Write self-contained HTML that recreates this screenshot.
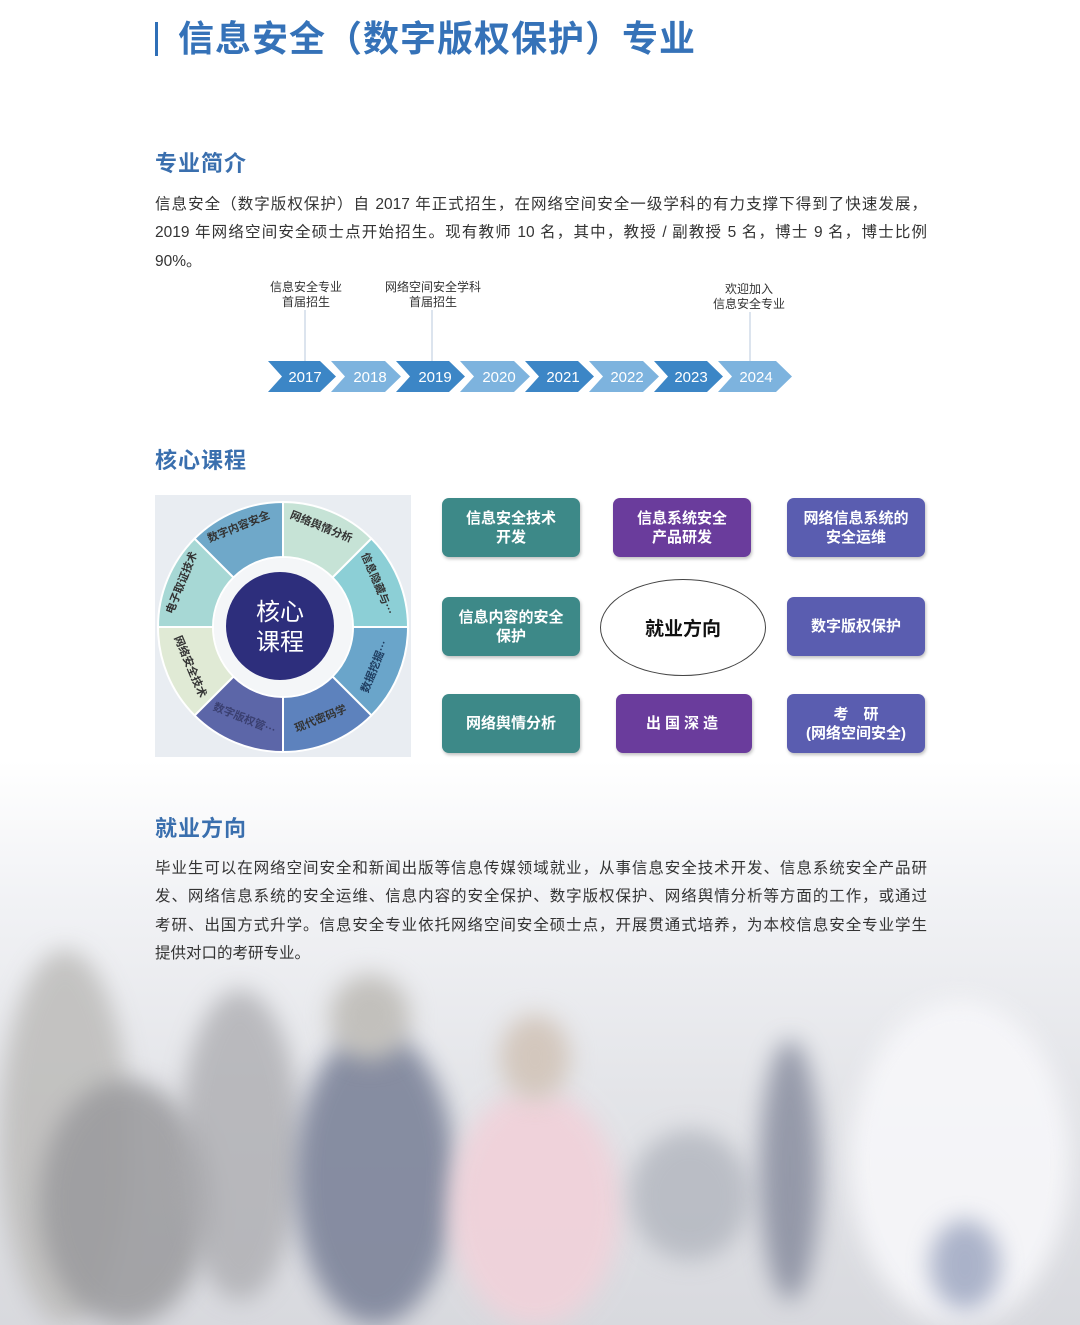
<!DOCTYPE html>
<html><head><meta charset="utf-8">
<style>
*{margin:0;padding:0;box-sizing:border-box}
body{width:1080px;height:1325px;position:relative;background:#fff;overflow:hidden;font-family:"Liberation Sans","Noto Sans CJK SC",sans-serif;color:#333}
.abs{position:absolute}
.h2{position:absolute;left:155px;font-size:22px;color:#3a6fae;font-weight:bold;letter-spacing:1px}
.p{position:absolute;left:155px;width:772px;font-size:15.5px;line-height:28.3px;color:#333}
.p div{text-align:justify;text-align-last:justify;white-space:nowrap;overflow:visible}
.p div.last{text-align-last:left}
.box{position:absolute;width:138px;height:59px;border-radius:7px;color:#fff;font-weight:bold;font-size:15px;display:flex;align-items:center;justify-content:center;text-align:center;line-height:19px;box-shadow:1px 2px 3px rgba(0,0,0,.25)}
.t{background:#3d8988}.pu{background:#6a3c9c}.bl{background:#5a5db0}
.lbl{position:absolute;font-size:12px;color:#333;text-align:center;line-height:15px}
.blob{position:absolute;border-radius:50%;filter:blur(12px)}
</style></head><body>
<!-- photo background -->
<div class="abs" style="left:0;top:760px;width:1080px;height:565px;background:linear-gradient(#fff 0%,#f1f2f5 25%,#e3e4e8 60%,#d8d9de 100%)"></div>
<div class="blob" style="left:0;top:950px;width:130px;height:375px;background:#bdbcba;opacity:.85"></div>
<div class="blob" style="left:40px;top:1080px;width:170px;height:245px;background:#9a9a9d;opacity:.85"></div>
<div class="blob" style="left:180px;top:990px;width:120px;height:310px;background:#aaaaae;opacity:.75"></div>
<div class="blob" style="left:295px;top:1030px;width:160px;height:295px;background:#7d849a;opacity:.9"></div>
<div class="blob" style="left:330px;top:975px;width:80px;height:85px;background:#c2c0bc"></div>
<div class="blob" style="left:450px;top:1090px;width:170px;height:235px;background:#f0d2da;opacity:.95"></div>
<div class="blob" style="left:500px;top:1015px;width:70px;height:85px;background:#d3c7bd"></div>
<div class="blob" style="left:630px;top:1130px;width:120px;height:130px;background:#aeb2bb;opacity:.75"></div>
<div class="blob" style="left:760px;top:1040px;width:60px;height:260px;background:#6d7389;opacity:.65"></div>
<div class="blob" style="left:850px;top:1000px;width:220px;height:325px;background:#f7f7fa;opacity:.9"></div>
<div class="blob" style="left:930px;top:1220px;width:70px;height:90px;background:#8c97b6;opacity:.7"></div>

<!-- title -->
<div class="abs" style="left:155px;top:22px;width:3px;height:34px;background:#2f6fb7"></div>
<div class="abs" style="left:178px;top:14px;font-size:36px;color:#3572b8;font-weight:bold;letter-spacing:1px;line-height:50px">信息安全（数字版权保护）专业</div>

<div class="h2" style="top:146px">专业简介</div>
<div class="p" style="top:191px">
<div>信息安全（数字版权保护）自 2017 年正式招生，在网络空间安全一级学科的有力支撑下得到了快速发展，</div>
<div>2019 年网络空间安全硕士点开始招生。现有教师 10 名，其中，教授 / 副教授 5 名，博士 9 名，博士比例</div>
<div class="last">90%。</div>
</div>

<!-- timeline -->
<div class="lbl" style="left:262px;top:280px;width:88px">信息安全专业<br>首届招生</div>
<div class="lbl" style="left:378px;top:280px;width:110px">网络空间安全学科<br>首届招生</div>
<div class="lbl" style="left:705px;top:282px;width:88px">欢迎加入<br>信息安全专业</div>
<svg class="abs" style="left:0;top:0" width="1080" height="400">
<g stroke="#b9c9dc" stroke-width="1"><line x1="305" y1="310" x2="305" y2="362"/><line x1="432" y1="310" x2="432" y2="362"/><line x1="750" y1="312" x2="750" y2="362"/></g>
<g font-family="Liberation Sans,sans-serif" font-size="15" fill="#fff" text-anchor="middle">
<polygon points="268,361 320,361 336,376.5 320,392 268,392 282,376.5" fill="#3c86c6"/>
<polygon points="331,361 385,361 401,376.5 385,392 331,392 345,376.5" fill="#7db3de"/>
<polygon points="396,361 449,361 465,376.5 449,392 396,392 410,376.5" fill="#3c86c6"/>
<polygon points="460,361 514,361 530,376.5 514,392 460,392 474,376.5" fill="#7db3de"/>
<polygon points="525,361 578,361 594,376.5 578,392 525,392 539,376.5" fill="#3c86c6"/>
<polygon points="589,361 643,361 659,376.5 643,392 589,392 603,376.5" fill="#7db3de"/>
<polygon points="654,361 707,361 723,376.5 707,392 654,392 668,376.5" fill="#3c86c6"/>
<polygon points="718,361 776,361 792,376.5 776,392 718,392 732,376.5" fill="#7db3de"/>
<text x="305" y="382">2017</text><text x="370" y="382">2018</text><text x="435" y="382">2019</text><text x="499" y="382">2020</text><text x="563" y="382">2021</text><text x="627" y="382">2022</text><text x="691" y="382">2023</text><text x="756" y="382">2024</text>
</g></svg>

<div class="h2" style="top:443px">核心课程</div>
<!-- wheel -->
<div class="abs" style="left:155px;top:495px;width:256px;height:262px;background:#e9edf2"></div>
<svg class="abs" style="left:155px;top:495px" width="256" height="262" viewBox="155 495 256 262">
<g stroke="#fff" stroke-width="2">
<path d="M283,502 A125,125 0 0 1 371.4,538.6 L332.5,577.5 A70,70 0 0 0 283,557Z" fill="#c6e3d6"/>
<path d="M371.4,538.6 A125,125 0 0 1 408,627 L353,627 A70,70 0 0 0 332.5,577.5Z" fill="#8ccfd6"/>
<path d="M408,627 A125,125 0 0 1 371.4,715.4 L332.5,676.5 A70,70 0 0 0 353,627Z" fill="#6aa5ca"/>
<path d="M371.4,715.4 A125,125 0 0 1 283,752 L283,697 A70,70 0 0 0 332.5,676.5Z" fill="#5d82bd"/>
<path d="M283,752 A125,125 0 0 1 194.6,715.4 L233.5,676.5 A70,70 0 0 0 283,697Z" fill="#5c66a8"/>
<path d="M194.6,715.4 A125,125 0 0 1 158,627 L213,627 A70,70 0 0 0 233.5,676.5Z" fill="#e0ead5"/>
<path d="M158,627 A125,125 0 0 1 194.6,538.6 L233.5,577.5 A70,70 0 0 0 213,627Z" fill="#a7d8d5"/>
<path d="M194.6,538.6 A125,125 0 0 1 283,502 L283,557 A70,70 0 0 0 233.5,577.5Z" fill="#6fa8c9"/>
</g>
<circle cx="283" cy="627" r="69" fill="#f4f6f8"/>
<circle cx="280" cy="626" r="54" fill="#2d2e7c"/>
<text x="280" y="620" font-size="24" fill="#fff" text-anchor="middle" font-family="Noto Sans CJK SC,sans-serif">核心</text>
<text x="280" y="650" font-size="24" fill="#fff" text-anchor="middle" font-family="Noto Sans CJK SC,sans-serif">课程</text>
<g font-size="11" font-weight="bold" fill="#333" font-family="Noto Sans CJK SC,sans-serif" text-anchor="middle">
<text transform="translate(320,530) rotate(22)">网络舆情分析</text>
<text transform="translate(374,585) rotate(67)">信息隐藏与…</text>
<text transform="translate(378,668) rotate(-68)" fill="#1f3d60">数据挖掘…</text>
<text transform="translate(322,722) rotate(-22)">现代密码学</text>
<text transform="translate(243,722) rotate(22)" fill="#3a3f70">数字版权管…</text>
<text transform="translate(187,668) rotate(67)">网络安全技术</text>
<text transform="translate(185,584) rotate(-68)">电子取证技术</text>
<text transform="translate(240,530) rotate(-22)">数字内容安全</text>
</g></svg>

<!-- boxes -->
<div class="box t" style="left:442px;top:498px">信息安全技术<br>开发</div>
<div class="box pu" style="left:613px;top:498px">信息系统安全<br>产品研发</div>
<div class="box bl" style="left:787px;top:498px">网络信息系统的<br>安全运维</div>
<div class="box t" style="left:442px;top:597px">信息内容的安全<br>保护</div>
<div class="abs" style="left:600px;top:579px;width:166px;height:97px;border:1px solid #444;border-radius:50%;background:#fff;display:flex;align-items:center;justify-content:center;font-size:19px;font-weight:bold;color:#111">就业方向</div>
<div class="box bl" style="left:787px;top:597px">数字版权保护</div>
<div class="box t" style="left:442px;top:694px">网络舆情分析</div>
<div class="box pu" style="left:616px;top:694px;width:136px;letter-spacing:4px">出国深造</div>
<div class="box bl" style="left:787px;top:694px">考　研<br>(网络空间安全)</div>

<div class="h2" style="top:811px">就业方向</div>
<div class="p" style="top:855px">
<div>毕业生可以在网络空间安全和新闻出版等信息传媒领域就业，从事信息安全技术开发、信息系统安全产品研</div>
<div>发、网络信息系统的安全运维、信息内容的安全保护、数字版权保护、网络舆情分析等方面的工作，或通过</div>
<div>考研、出国方式升学。信息安全专业依托网络空间安全硕士点，开展贯通式培养，为本校信息安全专业学生</div>
<div class="last">提供对口的考研专业。</div>
</div>
</body></html>
